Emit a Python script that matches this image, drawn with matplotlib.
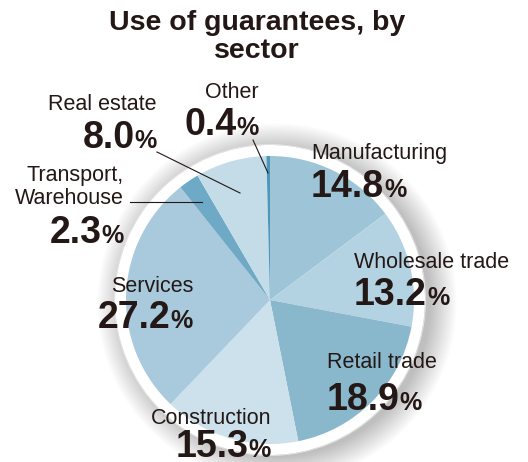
import numpy as np
import matplotlib.pyplot as plt
from matplotlib.patches import Circle

W, H = 528, 462

sectors = ["Manufacturing", "Wholesale trade", "Retail trade", "Construction",
           "Services", "Transport,\nWarehouse", "Real estate", "Other"]
shares = [14.8, 13.2, 18.9, 15.3, 27.2, 2.3, 8.0, 0.4]
colors = ["#9ec4d7", "#b3d3e2", "#89b8cd", "#cce1ec",
          "#a9cadc", "#6eaac6", "#c3dce8", "#4d97ba"]

# label anchor (pixel x, pixel y of name, baseline of number, alignment)
label_pos = [(311, 153, 197, "left"),
             (354, 263, 305, "left"),
             (327, 362, 410, "left"),
             (271, 418, 457, "right"),
             (193, 286, 328, "right"),
             (124, 187, 243, "right"),
             (157, 105, 148, "right"),
             (259, 92, 135, "right")]

ink = "#231815"
cx, cy, r = 270, H - 300, 144

fig = plt.figure(figsize=(W / 100, H / 100), dpi=100)
ax = fig.add_axes([0, 0, 1, 1])

# soft shadow and white rim behind the pie
for k in range(16):
    ax.add_patch(Circle((cx + 7, cy - 3), r + 10 + k * 1.7, color="#000000",
                        alpha=0.014, lw=0, zorder=1))
ax.add_patch(Circle((cx, cy), r + 11, color="white", lw=0, zorder=2))
ax.add_patch(Circle((cx, cy), r + 11.5, fill=False, ec="#e6e6e6", lw=0.6, zorder=2))

wedges, _ = ax.pie(shares, colors=colors, startangle=90, counterclock=False,
                   center=(cx, cy), radius=r, frame=True,
                   wedgeprops=dict(linewidth=0))
for w in wedges:
    w.set_zorder(3)
ax.set_xlim(0, W)
ax.set_ylim(0, H)
ax.set_aspect("equal")
ax.axis("off")

fig.text(0.487, 1 - 10 / H, "Use of guarantees, by\nsector", ha="center", va="top",
         fontsize=20.5, fontweight="heavy", color=ink, linespacing=1.08,
         family=["Liberation Sans", "DejaVu Sans"])

num_font = ["Liberation Sans Narrow", "Liberation Sans", "DejaVu Sans"]
fig.canvas.draw()
renderer = fig.canvas.get_renderer()

for name, val, (x, ny, nb, align) in zip(sectors, shares, label_pos):
    ax.text(x, H - ny, name, ha=align, va="center", fontsize=15.5, color=ink,
            family=["Liberation Sans", "DejaVu Sans"], linespacing=1.15, zorder=5)
    num = ax.text(x, H - nb, f"{val:.1f}", ha="left", va="baseline",
                  fontsize=27, fontweight="bold", color=ink, family=num_font, zorder=5)
    pct = ax.text(x, H - nb, "%", ha="left", va="baseline", fontsize=18,
                  fontweight="bold", color=ink, family=num_font, zorder=5)
    wn = num.get_window_extent(renderer).width
    wp = pct.get_window_extent(renderer).width
    if align == "right":
        num.set_x(x - wn - wp)
        pct.set_x(x - wp)
    else:
        pct.set_x(x + wn)

# leader lines
ax.plot([157, 240], [H - 152, H - 193], color=ink, lw=0.8, zorder=6)
ax.plot([253, 268], [H - 140, H - 173], color=ink, lw=0.8, zorder=6)
ax.plot([130, 202], [H - 202, H - 202], color=ink, lw=0.8, zorder=6)

fig.savefig("out.png", dpi=100)
